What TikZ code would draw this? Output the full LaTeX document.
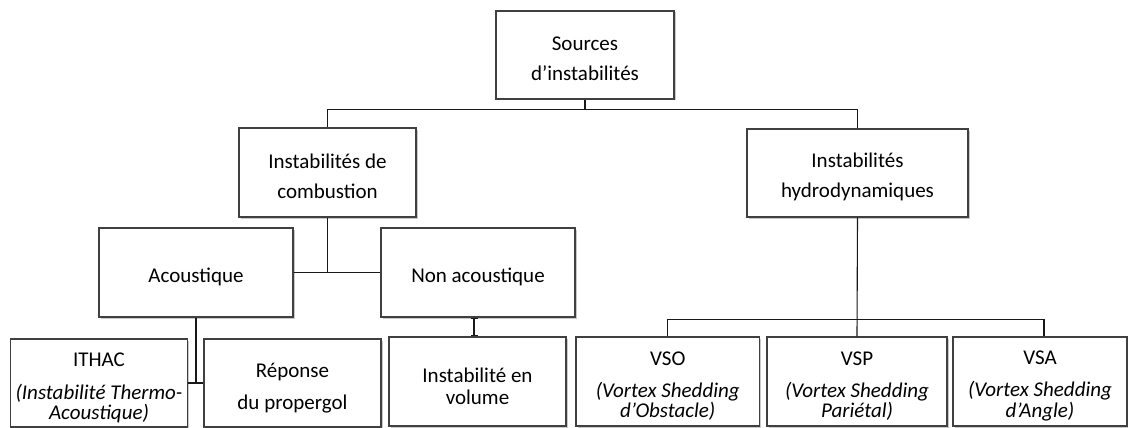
\documentclass[tikz,border=0pt]{standalone}
\usepackage{fontspec}
\setmainfont{Carlito}
\usetikzlibrary{shadows,arrows.meta,calc}
\begin{document}
\begin{tikzpicture}[x=1pt,y=-1pt,
  box/.style={draw=black!75, line width=1.1pt, fill=white, inner sep=0pt,
    drop shadow={shadow xshift=1.5pt, shadow yshift=-1.5pt, opacity=0.35, fill=black!60}},
  lbl/.style={inner sep=0pt, align=center, font=\fontsize{21}{30}\selectfont},
  link/.style={draw=black!90, line width=1.1pt},
  tick/.style={{Bar[width=7pt,line width=1.6pt]}-{Bar[width=7pt,line width=1.6pt]}}]
\useasboundingbox[fill=white] (0,0) rectangle (1128,428);

% level 0
\node[box, minimum width=178pt, minimum height=88pt] (src) at (585,55) {};
% level 1
\node[box, minimum width=177pt, minimum height=89pt] (comb) at (327.5,172.5) {};
\node[box, minimum width=221pt, minimum height=88pt] (hydro) at (857.5,173) {};
% level 2
\node[box, minimum width=194pt, minimum height=89pt] (acou) at (196,272.5) {};
\node[box, minimum width=194pt, minimum height=89pt] (nonac) at (478,272.5) {};
% level 3
\node[box, minimum width=177.5pt, minimum height=88pt] (ithac) at (99,383) {};
\node[box, minimum width=177pt, minimum height=88pt] (rep) at (292.5,383) {};
\node[box, minimum width=177pt, minimum height=89pt] (vol) at (477.5,381.5) {};
\node[box, minimum width=183.5pt, minimum height=89pt] (vso) at (667.75,381.5) {};
\node[box, minimum width=180pt, minimum height=89pt] (vsp) at (857,381.5) {};
\node[box, minimum width=174pt, minimum height=89pt] (vsa) at (1040,381.5) {};

% texts
\node[lbl] (src-t) at ([yshift=-4pt]src.center) {Sources\\d’instabilités};
\node[lbl] (comb-t) at ([yshift=-3.5pt]comb.center) {Instabilités de\\combustion};
\node[lbl] (hydro-t) at ([yshift=-3.5pt]hydro.center) {Instabilités\\hydrodynamiques};
\node[lbl] (acou-t) at ([yshift=-4pt]acou.center) {Acoustique};
\node[lbl] (nonac-t) at ([yshift=-4pt]nonac.center) {Non acoustique};
\node[lbl, font=\fontsize{21}{20}\selectfont] (ithac-t) at ([yshift=-5pt]ithac.center)
  {ITHAC\\[13pt]\textit{(Instabilité Thermo-}\\\textit{Acoustique)}};
\node[lbl, font=\fontsize{21}{32}\selectfont] (rep-t) at ([yshift=-5pt]rep.center) {Réponse\\du propergol};
\node[lbl, font=\fontsize{21}{22}\selectfont] (vol-t) at ([yshift=-5pt]vol.center) {Instabilité en\\volume};
\node[lbl, font=\fontsize{21}{20.5}\selectfont] (vso-t) at ([yshift=-4.5pt]vso.center)
  {VSO\\[11.5pt]\textit{(Vortex Shedding}\\\textit{d’Obstacle)}};
\node[lbl, font=\fontsize{21}{20.5}\selectfont] (vsp-t) at ([yshift=-4.5pt]vsp.center)
  {VSP\\[11.5pt]\textit{(Vortex Shedding}\\\textit{Pariétal)}};
\node[lbl, font=\fontsize{21}{20.5}\selectfont] (vsa-t) at ([yshift=-4.5pt]vsa.center)
  {VSA\\[11.5pt]\textit{(Vortex Shedding}\\\textit{d’Angle)}};

% connectors
\coordinate (j1) at ($(src.south)+(0,10)$);
\draw[link] (src.south) -- (j1);
\draw[link] (comb.north) |- (j1) -| (hydro.north);

\draw[link] (comb.south) -- (comb.south |- acou.east);
\draw[link] (acou.east) -- (nonac.west);

\draw[link] (acou.south) -- (acou.south |- ithac.east);
\draw[link] (ithac.east) -- (rep.west);

\draw[link, tick] ([xshift=-4pt]nonac.south) -- ([xshift=-4pt]nonac.south |- vol.north);

\coordinate (j2) at ($(hydro.south)+(0,102)$);
\draw[link] (hydro.south) -- (vsp.north);
\draw[link] (vso.north) |- (j2) -| ([xshift=4pt]vsa.north);
\end{tikzpicture}
\end{document}
